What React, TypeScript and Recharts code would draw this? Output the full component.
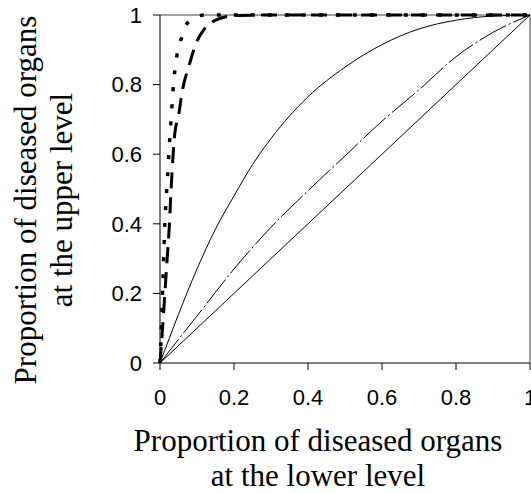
import { LineChart, Line, XAxis, YAxis, ReferenceLine, Label } from "recharts";

// x ticks / y ticks
const xTicks = [0, 0.2, 0.4, 0.6, 0.8, 1];
const yTicks = [0, 0.2, 0.4, 0.6, 0.8, 1];

const xTitle = ["Proportion of diseased organs", "at the lower level"];
const yTitle = ["Proportion of diseased organs", "at the upper level"];

// thin diagonal (y = x)
const diagX = [0, 1];
const diagY = [0, 1];

// thin dash-dot curve just above the diagonal
const dashDotX = [0, 0.05, 0.1, 0.2, 0.3, 0.4, 0.5, 0.6, 0.7, 0.8, 0.9, 1];
const dashDotY = [0, 0.068, 0.135, 0.27, 0.39, 0.495, 0.595, 0.695, 0.785, 0.88, 0.95, 1];

// thin solid concave curve
const solidX = [0, 0.05, 0.1, 0.15, 0.2, 0.25, 0.3, 0.4, 0.5, 0.6, 0.7, 0.8, 0.9, 1];
const solidY = [0, 0.14, 0.27, 0.385, 0.48, 0.57, 0.645, 0.765, 0.85, 0.915, 0.96, 0.985, 0.997, 1];

// thick dashed curve
const dashedX = [0, 0.005, 0.01, 0.015, 0.02, 0.025, 0.03, 0.04, 0.05, 0.06, 0.08, 0.1, 0.12, 0.15, 0.2, 0.3, 0.5, 0.75, 1];
const dashedY = [0, 0.07, 0.15, 0.23, 0.31, 0.39, 0.5, 0.66, 0.71, 0.78, 0.86, 0.925, 0.96, 0.985, 0.998, 1, 1, 1, 1];

// thick dotted curve
const dottedX = [0, 0.003, 0.006, 0.01, 0.013, 0.016, 0.02, 0.025, 0.03, 0.035, 0.04, 0.046, 0.06, 0.07, 0.09, 0.12, 0.2, 0.5, 1];
const dottedY = [0, 0.08, 0.18, 0.3, 0.4, 0.46, 0.53, 0.62, 0.7, 0.78, 0.84, 0.885, 0.94, 0.97, 0.99, 1, 1, 1, 1];

const toPoints = (xs: number[], ys: number[]) => xs.map((x, i) => ({ x, y: ys[i] }));

const diagData = toPoints(diagX, diagY);
const dashDotData = toPoints(dashDotX, dashDotY);
const solidData = toPoints(solidX, solidY);
const dashedData = toPoints(dashedX, dashedY);
const dottedData = toPoints(dottedX, dottedY);

const serif = "'Liberation Serif', 'Times New Roman', serif";
const sans = "'Liberation Sans', Arial, sans-serif";

const tickStyle = { fontFamily: sans, fontSize: 22, fill: "#000" };

function XTitle() {
  const cx = 318;
  return (
    <g>
      <text x={cx} y={451} textAnchor="middle" fontFamily={serif} fontSize={31} fill="#000">
        {xTitle[0]}
      </text>
      <text x={cx} y={486} textAnchor="middle" fontFamily={serif} fontSize={31} fill="#000">
        {xTitle[1]}
      </text>
    </g>
  );
}

function YTitle() {
  const cy = 200;
  const x1 = 36;
  const x2 = 72;
  return (
    <g>
      <text x={x1} y={cy} transform={`rotate(-90 ${x1} ${cy})`} textAnchor="middle" fontFamily={serif} fontSize={31} fill="#000">
        {yTitle[0]}
      </text>
      <text x={x2} y={cy} transform={`rotate(-90 ${x2} ${cy})`} textAnchor="middle" fontFamily={serif} fontSize={31} fill="#000">
        {yTitle[1]}
      </text>
    </g>
  );
}

export default function App() {
  return (
    <div style={{ position: "absolute", left: 0, top: 0, width: 531, height: 493, overflow: "hidden", background: "#fff" }}>
      <LineChart width={545} height={493} margin={{ top: 15, right: 15, left: 0, bottom: 0 }}>
        <XAxis
          type="number"
          dataKey="x"
          domain={[0, 1]}
          ticks={xTicks}
          height={130}
          tick={tickStyle}
          tickSize={7}
          tickMargin={19}
          stroke="#000"
          interval={0}
        >
          <Label content={<XTitle />} />
        </XAxis>
        <YAxis
          type="number"
          dataKey="y"
          domain={[0, 1]}
          ticks={yTicks}
          width={160}
          tick={tickStyle}
          tickSize={7}
          tickMargin={11}
          stroke="#000"
          interval={0}
        >
          <Label content={<YTitle />} />
        </YAxis>
        <ReferenceLine y={1} stroke="#808080" strokeWidth={1.5} />
        <ReferenceLine x={1} stroke="#808080" strokeWidth={1.5} />
        <Line data={diagData} dataKey="y" type="linear" stroke="#000" strokeWidth={1} dot={false} activeDot={false} isAnimationActive={false} />
        <Line data={dashDotData} dataKey="y" type="monotone" stroke="#000" strokeWidth={1} strokeDasharray="30 3 2 3" dot={false} activeDot={false} isAnimationActive={false} />
        <Line data={solidData} dataKey="y" type="monotone" stroke="#000" strokeWidth={1} dot={false} activeDot={false} isAnimationActive={false} />
        <Line data={dashedData} dataKey="y" type="monotone" stroke="#000" strokeWidth={3} strokeDasharray="16 9" dot={false} activeDot={false} isAnimationActive={false} />
        <Line data={dottedData} dataKey="y" type="monotone" stroke="#000" strokeWidth={3.5} strokeDasharray="4 13" dot={false} activeDot={false} isAnimationActive={false} />
      </LineChart>
    </div>
  );
}
